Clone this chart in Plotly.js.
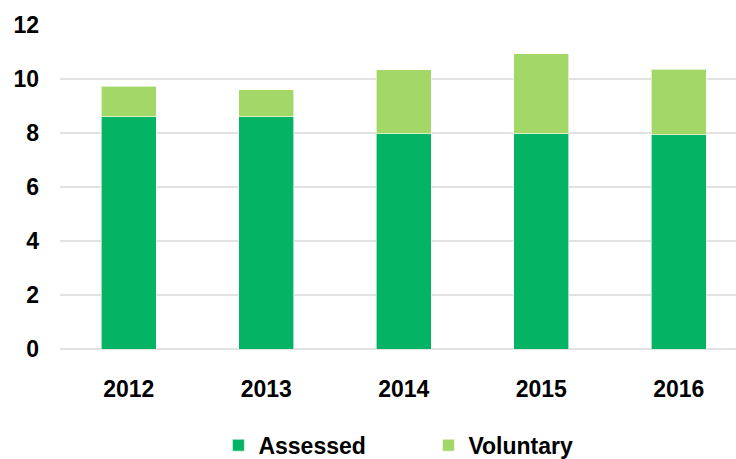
<!DOCTYPE html>
<html>
<head>
<meta charset="utf-8">
<script src="https://cdn.plot.ly/plotly-3.0.1.min.js"></script>
<style>html,body{margin:0;padding:0;background:#fff;}#chart{width:736px;height:459px;}</style>
</head>
<body>
<div id="chart"></div>
<script>
const years = ['2012', '2013', '2014', '2015', '2016'];
const assessed = [8.6, 8.6, 7.98, 7.98, 7.94];
const voluntary = [1.13, 1.0, 2.36, 2.95, 2.43];

const fontFam = 'Liberation Sans, Arial, sans-serif';
const traces = [
  {type: 'bar', name: 'Assessed', x: years, y: assessed,
   marker: {color: 'rgb(4,180,100)', line: {color: 'rgba(255,255,255,0.6)', width: 1}}, hoverinfo: 'skip'},
  {type: 'bar', name: 'Voluntary', x: years, y: voluntary,
   marker: {color: 'rgb(163,215,104)', line: {color: 'rgba(255,255,255,0.6)', width: 1}}, hoverinfo: 'skip'}
];
const layout = {
  width: 736, height: 459,
  margin: {l: 60, r: 0, t: 25, b: 110},
  barmode: 'stack',
  bargap: 0.6,
  paper_bgcolor: '#fff', plot_bgcolor: '#fff',
  font: {family: fontFam, size: 23, color: '#000', weight: 'bold'},
  xaxis: {type: 'category', range: [-0.5, 4.416], showgrid: false, zeroline: false, automargin: false,
          ticks: '', ticklabelstandoff: 24, tickfont: {size: 23, weight: 'bold'}},
  yaxis: {range: [0, 12], dtick: 2, showgrid: true, gridcolor: '#e2e2e2', gridwidth: 2, automargin: false,
          zeroline: true, zerolinecolor: '#e2e2e2', zerolinewidth: 2,
          ticks: '', ticklabelstandoff: 20, tickfont: {size: 23, weight: 'bold'}},
  showlegend: true,
  legend: {orientation: 'h', xref: 'paper', x: 0.545, xanchor: 'center',
           yref: 'container', y: 0.03, yanchor: 'middle',
           traceorder: 'normal', entrywidth: 165, font: {size: 23, weight: 'bold'}}
};
Plotly.newPlot('chart', traces, layout, {staticPlot: true, displayModeBar: false});
</script>
</body>
</html>
